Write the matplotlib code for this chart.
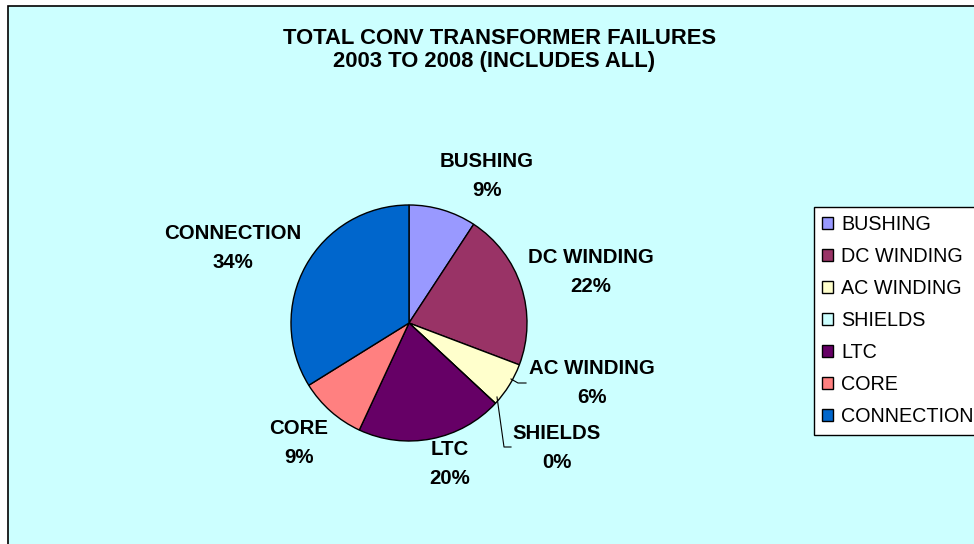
import matplotlib
matplotlib.use("Agg")
import matplotlib.pyplot as plt
from matplotlib.patches import Rectangle

# ---- data ----
categories = ["BUSHING", "DC WINDING", "AC WINDING", "SHIELDS", "LTC", "CORE", "CONNECTION"]
counts = [6, 14, 4, 0, 13, 6, 22]
pct_labels = ["9%", "22%", "6%", "0%", "20%", "9%", "34%"]
colors = ["#9999FF", "#993366", "#FFFFCC", "#CCFFFF", "#660066", "#FF8080", "#0066CC"]
title_lines = ["TOTAL CONV TRANSFORMER FAILURES", "2003 TO 2008 (INCLUDES ALL)"]

# ---- layout (pixel coordinates, y down) ----
W, H = 974, 544
center = (409, 323)
radius = 118
label_pos = [(487, 176), (591, 272), (592, 383), (557, 448), (450, 464), (299, 443), (233, 248)]

plt.rcParams['font.family'] = ['Liberation Sans', 'DejaVu Sans']

fig = plt.figure(figsize=(W / 100, H / 100), dpi=100, facecolor="white")
ax = fig.add_axes([0, 0, 1, 1])

wedges, _ = ax.pie(counts, colors=colors, startangle=-90, counterclock=True,
                   center=center, radius=radius,
                   wedgeprops=dict(edgecolor="black", linewidth=1.0))
for w in wedges:
    w.set_zorder(3)

ax.set_xlim(0, W)
ax.set_ylim(H, 0)
ax.set_axis_off()

# chart area background
ax.add_patch(Rectangle((7.5, 5.5), 1200, 1200, facecolor="#CCFFFF",
                       edgecolor="black", linewidth=1.2, zorder=0))

# title
ax.text(500, 39, title_lines[0], ha="center", va="center", fontsize=15.8, fontweight="bold")
ax.text(494, 61, title_lines[1], ha="center", va="center", fontsize=15.8, fontweight="bold")

# data labels
for (x, y), cat, p in zip(label_pos, categories, pct_labels):
    ax.text(x, y, f"{cat}\n{p}", ha="center", va="center", fontsize=14.7,
            fontweight="bold", linespacing=1.68, zorder=5)

# leader lines
ax.plot([511, 518, 526], [379, 383, 383], color="black", lw=0.8, zorder=4)
ax.plot([497, 504, 511], [397, 447, 447], color="black", lw=0.8, zorder=4)

# legend
leg = ax.legend(wedges, categories, loc="upper left",
                bbox_to_anchor=(814 / W, 1 - 207 / H), bbox_transform=fig.transFigure,
                frameon=True, fancybox=False, edgecolor="black", facecolor="white",
                framealpha=1, fontsize=14.2, handlelength=0.55, handleheight=0.55,
                handletextpad=0.4, labelspacing=0.66, borderpad=0.42, borderaxespad=0)
leg.get_frame().set_linewidth(1.0)
leg.set_zorder(6)

fig.savefig("out.png", dpi=100, facecolor="white")
